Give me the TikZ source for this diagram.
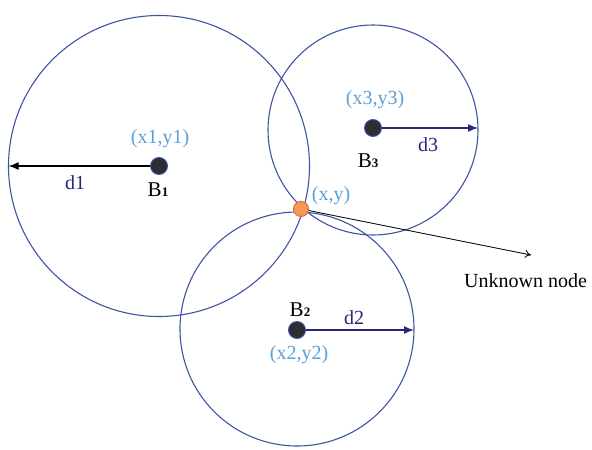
\documentclass[tikz,border=0pt]{standalone}
\usepackage{fontspec}
\setmainfont{Liberation Serif}
\usepackage{tikz}
\usetikzlibrary{arrows.meta, positioning, calc}
\usepackage{xcolor}
\definecolor{ringblue}{RGB}{62, 84, 163}
\definecolor{coordblue}{RGB}{90, 160, 215}
\definecolor{navy}{RGB}{40, 38, 120}
\definecolor{dotgray}{RGB}{45, 45, 50}
\definecolor{unkorange}{RGB}{245, 152, 88}
\definecolor{unkedge}{RGB}{205, 105, 55}

\begin{document}
\begin{tikzpicture}[
  x=1pt, y=-1pt,
  ring/.style={circle, draw=ringblue, line width=1.1pt, inner sep=0pt, outer sep=0pt, minimum size=#1},
  beacon/.style={circle, fill=dotgray, draw=ringblue, line width=0.9pt, inner sep=0pt, minimum size=17pt},
  unk/.style={circle, fill=unkorange, draw=unkedge, line width=0.9pt, inner sep=0pt, minimum size=15pt},
  clbl/.style={text=coordblue, font=\fontsize{20}{20}\selectfont, inner sep=1pt},
  dlbl/.style={text=navy, font=\fontsize{20}{20}\selectfont, inner sep=1pt},
  blbl/.style={text=black, font=\fontsize{21}{21}\selectfont, inner sep=1pt},
  darr/.style={-{Latex[length=10pt, width=8pt]}, line width=1.4pt, navy},
  karr/.style={-{Latex[length=10pt, width=8pt]}, line width=1.5pt, black},
  uarr/.style={-{To[length=6pt, width=8pt]}, line width=0.8pt, black}
]
\useasboundingbox (0,0) rectangle (592,450);
% beacons and their ranges
\node[ring=301pt] (c1) at (159,166) {};
\node[ring=210pt] (c3) at (373,130) {};
\node[ring=234pt] (c2) at (297,329) {};
\node[beacon] (b1) at (159,166) {};
\node[beacon] (b3) at (373,128) {};
\node[beacon] (b2) at (297,330) {};
\node[unk]    (u)  at (301,209) {};
% ranges
\draw[karr] (b1) -- (c1.west);
\draw[darr] (b3) -- (c3.east |- b3);
\draw[darr] (b2) -- (c2.east |- b2);
% labels
\node[clbl] (p1) at (160,139) {(x1,y1)};
\node[clbl] (p3) at (375,100) {(x3,y3)};
\node[clbl] (p2) at (299,355) {(x2,y2)};
\node[clbl] (pu) at (331,196) {(x,y)};
\node[dlbl] (l1) at (75,183) {d1};
\node[dlbl] (l3) at (428,145) {d3};
\node[dlbl] (l2) at (354,318) {d2};
\node[blbl] (n1) at (158,190) {B{\fontsize{13}{13}\selectfont\bfseries 1}};
\node[blbl] (n3) at (368,161) {B{\fontsize{13}{13}\selectfont\bfseries 3}};
\node[blbl] (n2) at (300,310) {B{\fontsize{13}{13}\selectfont\bfseries 2}};
% unknown node pointer
\coordinate (uend) at (531,255);
\draw[uarr] (u) -- (uend);
\node[blbl, font=\fontsize{20}{20}\selectfont, anchor=west] (ulbl) at (463,281) {Unknown node};
\end{tikzpicture}
\end{document}
